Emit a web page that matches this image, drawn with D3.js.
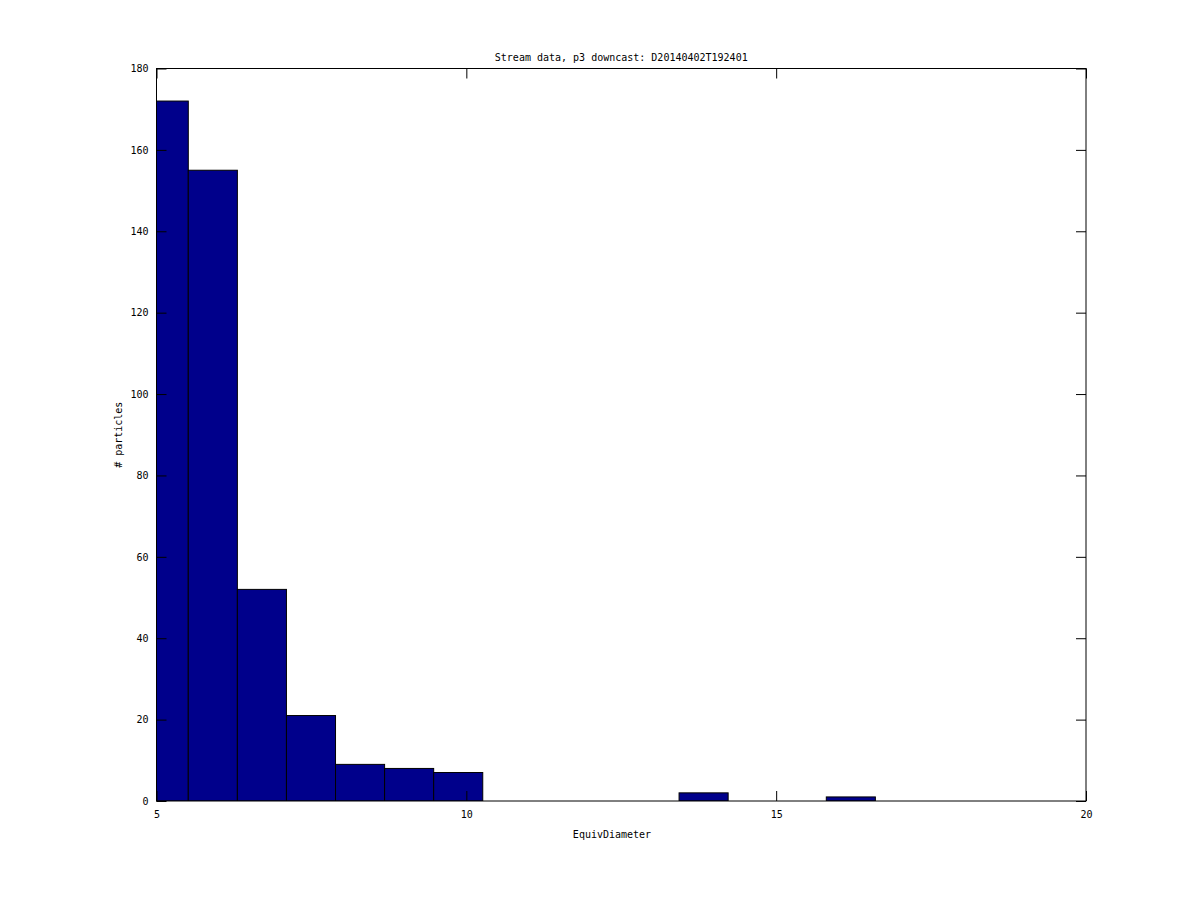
<!DOCTYPE html>
<html>
<head>
<meta charset="utf-8">
<script src="https://cdn.jsdelivr.net/npm/d3@7"></script>
<style>
  body { margin: 0; background: #fff; }
  text { font-family: "DejaVu Sans Mono", monospace; font-size: 10px; fill: #000; }
</style>
</head>
<body>
<div id="chart"></div>
<script>
// histogram bins (Matlab hist style), bin width ~0.792
const binStart = 4.721;
const binWidth = 0.792;
const counts = [172, 155, 52, 21, 9, 8, 7, 0, 0, 0, 0, 2, 0, 0, 1, 0, 0, 0, 0, 0];
const xTicks = [5, 10, 15, 20];
const yTicks = [0, 20, 40, 60, 80, 100, 120, 140, 160, 180];
const title = "Stream data, p3 downcast: D20140402T192401";
const xLabel = "EquivDiameter";
const yLabel = "# particles";

const width = 1200, height = 900;
const margin = {top: 68.5, right: 114, bottom: 99, left: 156.5};
const w = width - margin.left - margin.right;
const h = height - margin.top - margin.bottom;

const bins = counts.map((c, i) => ({x0: binStart + i * binWidth, x1: binStart + (i + 1) * binWidth, n: c}));

const svg = d3.select("#chart").append("svg")
  .attr("width", width)
  .attr("height", height);

const g = svg.append("g")
  .attr("transform", `translate(${margin.left},${margin.top})`);

const x = d3.scaleLinear().domain([5, 20]).range([0, w]);
const y = d3.scaleLinear().domain([0, 180]).range([h, 0]);

svg.append("defs").append("clipPath").attr("id", "clip")
  .append("rect").attr("width", w).attr("height", h);

// bars
g.append("g").attr("clip-path", "url(#clip)")
  .selectAll("rect")
  .data(bins.filter(d => d.n > 0))
  .enter()
  .append("rect")
  .attr("x", d => x(d.x0))
  .attr("y", d => y(d.n))
  .attr("width", d => x(d.x1) - x(d.x0))
  .attr("height", d => y(0) - y(d.n))
  .attr("fill", "#00008b")
  .attr("stroke", "#000")
  .attr("stroke-width", 1);

// axes, ticks inside
const tickLen = 10;
function styleAxis(sel) {
  sel.select(".domain").remove();
  sel.selectAll(".tick line").attr("stroke", "#000");
  sel.selectAll(".tick text").style("font-family", "DejaVu Sans Mono, monospace").style("font-size", "10px");
}

g.append("g")
  .attr("transform", `translate(0,${h})`)
  .call(d3.axisBottom(x).tickValues(xTicks).tickSizeInner(-tickLen).tickSizeOuter(0).tickPadding(10))
  .call(styleAxis);

g.append("g")
  .call(d3.axisTop(x).tickValues(xTicks).tickSizeInner(-tickLen).tickSizeOuter(0).tickFormat(""))
  .call(styleAxis);

g.append("g")
  .call(d3.axisLeft(y).tickValues(yTicks).tickSizeInner(-tickLen).tickSizeOuter(0).tickPadding(8))
  .call(styleAxis);

g.append("g")
  .attr("transform", `translate(${w},0)`)
  .call(d3.axisRight(y).tickValues(yTicks).tickSizeInner(-tickLen).tickSizeOuter(0).tickFormat(""))
  .call(styleAxis);

// frame
g.append("rect")
  .attr("width", w)
  .attr("height", h)
  .attr("fill", "none")
  .attr("stroke", "#000")
  .attr("stroke-width", 1);

// labels
svg.append("text")
  .attr("x", margin.left + w / 2)
  .attr("y", 61)
  .attr("text-anchor", "middle")
  .text(title);

svg.append("text")
  .attr("x", 612)
  .attr("y", 838)
  .attr("text-anchor", "middle")
  .text(xLabel);

svg.append("text")
  .attr("transform", `translate(122,${margin.top + h / 2}) rotate(-90)`)
  .attr("text-anchor", "middle")
  .text(yLabel);
</script>
</body>
</html>
